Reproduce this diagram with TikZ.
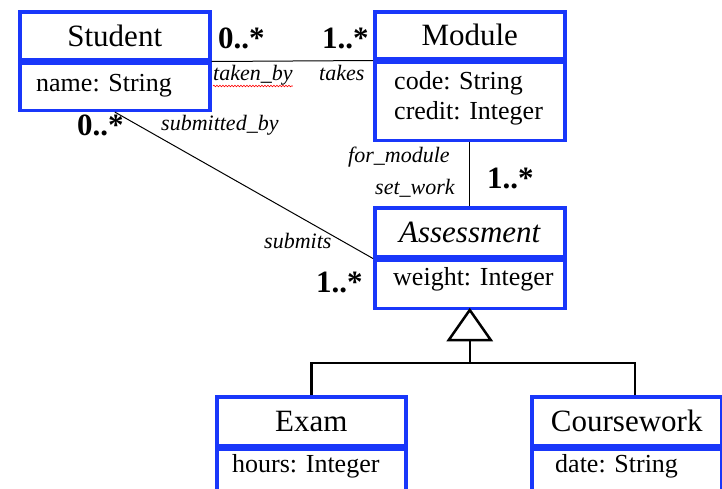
\documentclass[tikz,border=0pt]{standalone}
\usepackage{fontspec}
\setmainfont{Liberation Serif}
\usetikzlibrary{calc,decorations.pathmorphing}
\definecolor{umlblue}{RGB}{25,55,250}
\begin{document}
\begin{tikzpicture}[x=1pt,y=-1pt,
  box/.style={draw=umlblue, line width=3.5pt, rectangle, inner sep=0pt, anchor=north west},
  cname/.style={box, font=\fontsize{31}{36}\selectfont},
  attrtext/.style={inner sep=0pt, anchor=base west, align=left, font=\fontsize{26}{30}\selectfont},
  mult/.style={inner sep=0pt, anchor=base west, font=\bfseries\fontsize{31}{36}\selectfont},
  role/.style={inner sep=0pt, anchor=base west, font=\itshape\fontsize{22}{26}\selectfont},
  assoc/.style={line width=1pt},
  gen/.style={line width=2.5pt}]
\useasboundingbox (0,0) rectangle (722,488);
\begin{scope}
\clip (0,0) rectangle (722,488);
% Student
\node[cname, minimum width=190, minimum height=48] (studentN) at (18,10) {Student};
\node[box, minimum width=190, minimum height=47] (studentA) at (studentN.south west) {};
\node[attrtext] (studentT) at (36,91) {name: String};
% Module
\node[cname, minimum width=190, minimum height=47] (moduleN) at (373,10) {Module};
\node[box, minimum width=190, minimum height=78] (moduleA) at (moduleN.south west) {};
\node[attrtext] (moduleT1) at (394,89) {code: String};
\node[attrtext] (moduleT2) at (394,119) {credit: Integer};
% Assessment
\node[cname, minimum width=190, minimum height=49, font=\itshape\fontsize{31}{36}\selectfont] (assessN) at (373,206) {Assessment};
\node[box, minimum width=190, minimum height=48] (assessA) at (assessN.south west) {};
\node[attrtext] (assessT) at (393,285) {weight: Integer};
% Exam
\node[cname, minimum width=189, minimum height=49] (examN) at (215,395) {Exam};
\node[box, minimum width=189, minimum height=70] (examA) at (examN.south west) {};
\node[attrtext] (examT) at (232,472) {hours: Integer};
% Coursework
\node[cname, minimum width=190, minimum height=49] (cwN) at (530,395) {Coursework};
\node[box, minimum width=190, minimum height=70] (cwA) at (cwN.south west) {};
\node[attrtext] (cwT) at (555,472) {date: String};

% associations
\draw[assoc] (studentN.south east) -- (moduleN.south west);
\draw[assoc] (moduleA.south) -- (assessN.north);
\draw[assoc] (studentA.south) -- (assessN.south west);

% multiplicities
\node[mult] (m1) at (218,48) {0..*};
\node[mult] (m2) at (322,48) {1..*};
\node[mult] (m3) at (77,135) {0..*};
\node[mult] (m4) at (487,188) {1..*};
\node[mult] (m5) at (316,292) {1..*};

% roles
\node[role] (r1) at (213,80) {taken\_by};
\draw[red, line width=0.6pt, decorate, decoration={snake, amplitude=0.8pt, segment length=3pt}] ($(r1.base west)+(0,6)$) -- ($(r1.base east)+(0,6)$);
\node[role] (r2) at (319,80) {takes};
\node[role] (r3) at (161,130) {submitted\_by};
\node[role] (r4) at (348,162) {for\_module};
\node[role] (r5) at (375,194) {set\_work};
\node[role] (r6) at (264,248) {submits};

% generalization
\draw[gen] (assessA.south) -- ++(-21,30) -- ++(42,0) -- cycle;
\coordinate (tribase) at ($(assessA.south)+(0,30)$);
\coordinate (junction) at ($(assessA.south)+(0,53)$);
\draw[gen] (tribase) -- (junction);
\draw[gen] (examN.north) |- (junction) -| ([xshift=8pt]cwN.north);
\end{scope}
\end{tikzpicture}
\end{document}
